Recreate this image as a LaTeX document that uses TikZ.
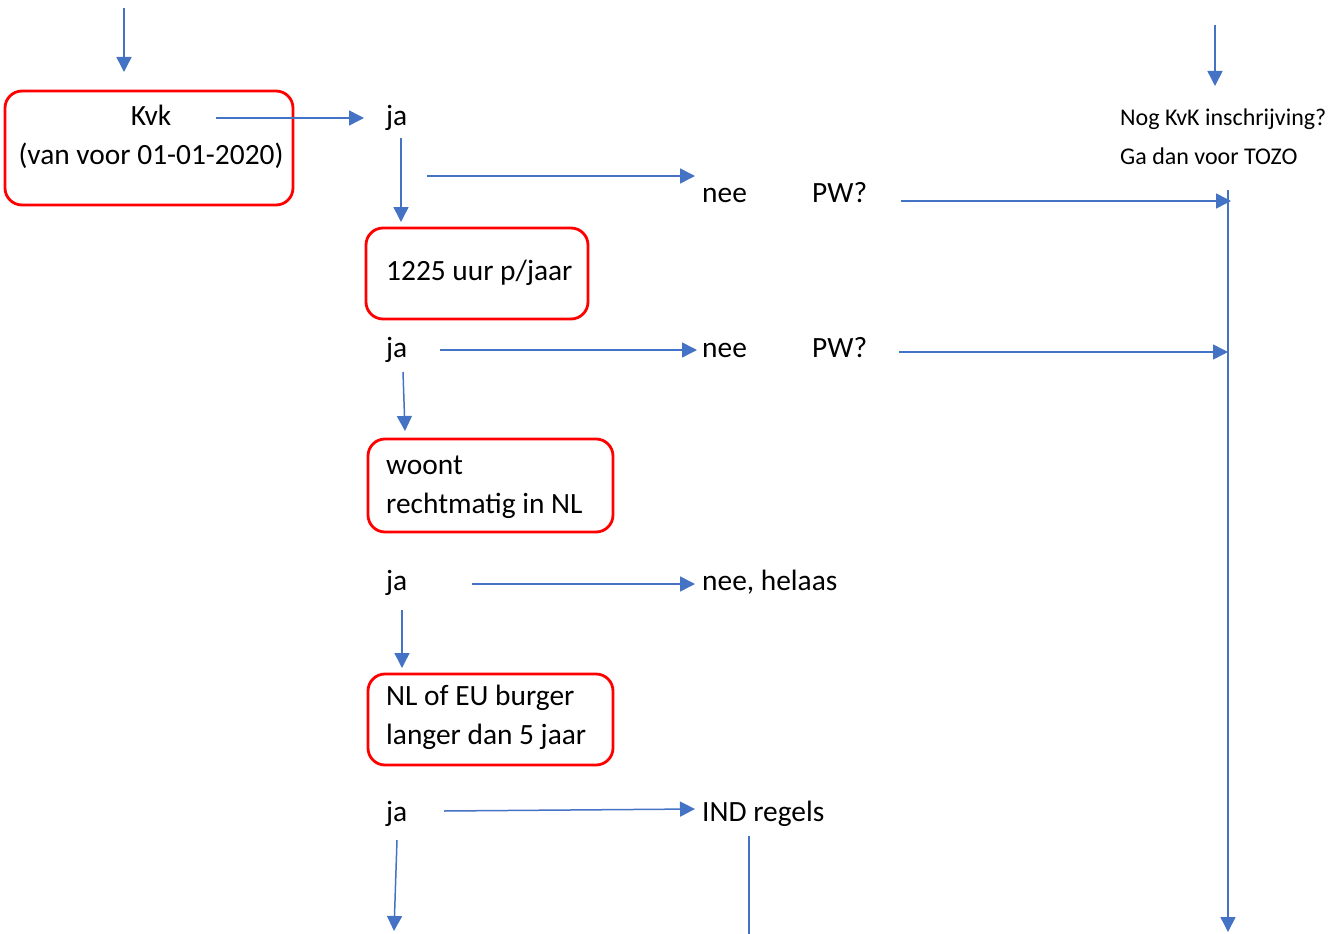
\documentclass[tikz,border=0pt]{standalone}
\usepackage{fontspec}
\setmainfont{Carlito}
\usetikzlibrary{arrows.meta}
\definecolor{flowblue}{HTML}{4472C4}
\definecolor{boxred}{HTML}{FF0000}
\tikzset{
  conn/.style={draw=flowblue, line width=1.5pt, -{Triangle[length=15pt,width=15pt]}},
  plainline/.style={draw=flowblue, line width=1.5pt},
  redbox/.style={draw=boxred, line width=2.8pt, rounded corners=17pt, rectangle, inner sep=0pt},
  lbl/.style={inner sep=0pt, anchor=base west, font=\fontsize{29.4}{35}\selectfont},
  lblc/.style={inner sep=0pt, anchor=base, font=\fontsize{29.4}{35}\selectfont},
  small/.style={inner sep=0pt, anchor=base west, font=\fontsize{24}{29}\selectfont}
}
\begin{document}
\begin{tikzpicture}[x=1pt,y=-1pt]
\useasboundingbox (0,0) rectangle (1344,934);

% boxes
\node[redbox, minimum width=288pt, minimum height=114pt] (kvkbox) at (149,148) {};
\node[redbox, minimum width=222pt, minimum height=91pt] (uurbox) at (477,273.5) {};
\node[redbox, minimum width=245pt, minimum height=93pt] (woontbox) at (490.5,485.5) {};
\node[redbox, minimum width=245pt, minimum height=91pt] (eubox) at (490.5,719.5) {};

% texts
\node[lblc] (kvk) at (151,125) {Kvk};
\node[lblc] (kvkdate) at (151,164) {(van voor 01-01-2020)};
\node[lbl] (ja1) at (386,125) {ja};
\node[lbl] (nee1) at (702,202) {nee};
\node[lbl] (pw1) at (812,202) {PW?};
\node[small] (nog) at (1120,125) {Nog KvK inschrijving?};
\node[small] (tozo) at (1120,164) {Ga dan voor TOZO};
\node[lbl] (uur) at (386,280) {1225 uur p/jaar};
\node[lbl] (ja2) at (386,357) {ja};
\node[lbl] (nee2) at (702,357) {nee};
\node[lbl] (pw2) at (812,357) {PW?};
\node[lbl] (woont) at (386,474) {woont};
\node[lbl] (recht) at (386,513) {rechtmatig in NL};
\node[lbl] (ja3) at (386,590) {ja};
\node[lbl] (helaas) at (702,590) {nee, helaas};
\node[lbl] (nleu) at (386,705) {NL of EU burger};
\node[lbl] (langer) at (386,744) {langer dan 5 jaar};
\node[lbl] (ja4) at (386,821) {ja};
\node[lbl] (ind) at (702,821) {IND regels};

% connector end points
\coordinate (topin) at (124,8);
\coordinate (kvkin) at (124,72);
\coordinate (kvkout) at (216,118);
\coordinate (ja1in) at (364,118);
\coordinate (ja1down) at (401,138);
\coordinate (uurin) at (401,222);
\coordinate (ja1right) at (427,176);
\coordinate (nee1in) at (695,176);
\coordinate (pw1out) at (901,201);
\coordinate (rail1) at (1231,201);
\coordinate (topright) at (1215,25);
\coordinate (nogin) at (1215,86);
\coordinate (railtop) at (1228,190);
\coordinate (railend) at (1228,932);
\coordinate (ja2out) at (440,350);
\coordinate (nee2in) at (697,350);
\coordinate (pw2out) at (899,352);
\coordinate (rail2) at (1228,352);
\coordinate (ja2down) at (403,372);
\coordinate (woontin) at (405,431);
\coordinate (ja3out) at (472,584);
\coordinate (helaasin) at (695,584);
\coordinate (ja3down) at (402,610);
\coordinate (euin) at (402,668);
\coordinate (ja4out) at (444,811);
\coordinate (indin) at (695,809);
\coordinate (ja4down) at (397,840);
\coordinate (ja4end) at (394,931);
\coordinate (indout) at (749,836);
\coordinate (indend) at (749,934);

% connectors
\draw[conn] (topin) -- (kvkin);
\draw[conn] (kvkout) -- (ja1in);
\draw[conn] (ja1down) -- (uurin);
\draw[conn] (ja1right) -- (nee1in);
\draw[conn] (pw1out) -- (rail1);
\draw[conn] (topright) -- (nogin);
\draw[conn] (railtop) -- (railend);
\draw[conn] (ja2out) -- (nee2in);
\draw[conn] (pw2out) -- (rail2);
\draw[conn] (ja2down) -- (woontin);
\draw[conn] (ja3out) -- (helaasin);
\draw[conn] (ja3down) -- (euin);
\draw[conn] (ja4out) -- (indin);
\draw[conn] (ja4down) -- (ja4end);
\draw[plainline] (indout) -- (indend);
\end{tikzpicture}
\end{document}
